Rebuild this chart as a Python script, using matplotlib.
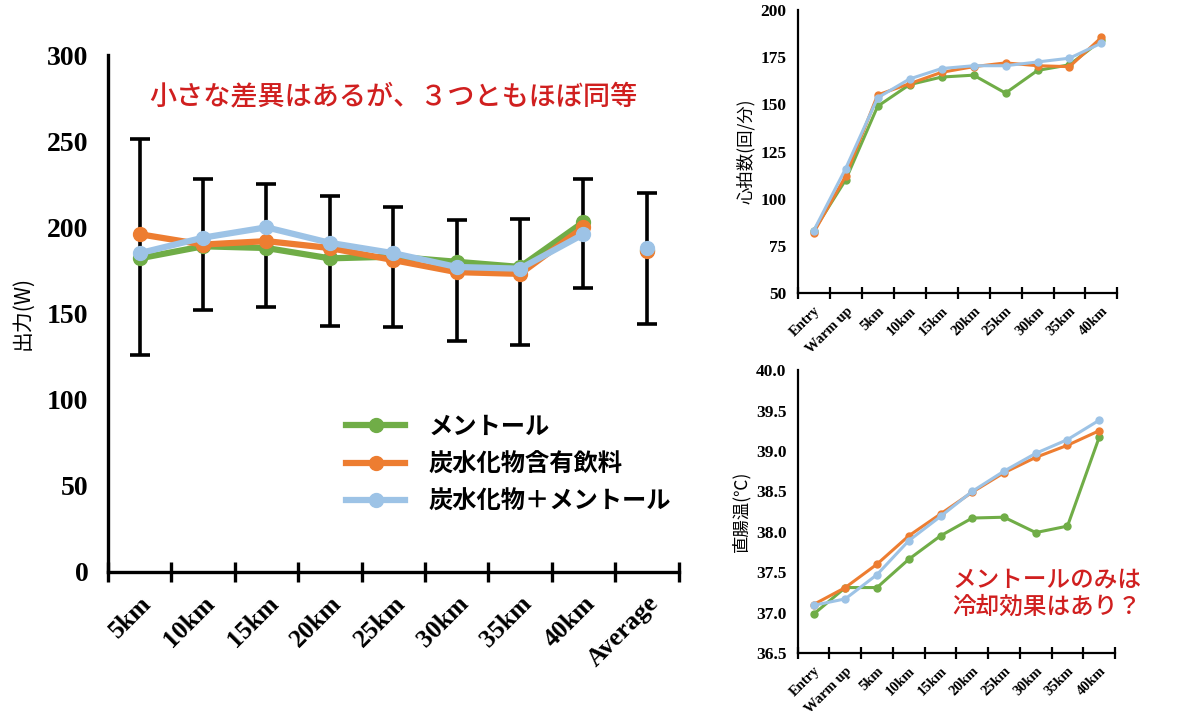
import numpy as np
import matplotlib.pyplot as plt

plt.rcParams['font.family'] = ['Noto Sans CJK JP', 'DejaVu Sans']

GREEN = '#70ad47'
ORANGE = '#ed7d31'
BLUE = '#9dc3e6'
RED = '#d01f1f'
SERIF = 'Liberation Serif'
CJK = ['Noto Sans CJK JP', 'DejaVu Sans']

# main chart: power output
power_cats = ['5km', '10km', '15km', '20km', '25km', '30km', '35km', '40km', 'Average']
power_menthol = [182, 189, 188, 182, 183, 180, 177, 203, 187]
power_carb = [196, 190, 192, 188, 181, 174, 173, 200, 186]
power_carb_menthol = [185, 194, 200, 191, 185, 177, 176, 196, 188]
err_top = [251, 228, 225, 218, 212, 204, 205, 228, 220]
err_bottom = [126, 152, 154, 143, 142, 134, 132, 165, 144]

# right charts
stage_cats = ['Entry', 'Warm up', '5km', '10km', '15km', '20km', '25km', '30km', '35km', '40km']
hr_menthol = [83, 110, 149, 160.5, 164.5, 165.5, 156, 168, 171, 184]
hr_carb = [82, 112, 155, 161, 167, 170, 172, 170.5, 170, 185.5]
hr_carb_menthol = [83, 116, 153.5, 163.5, 169, 170.5, 170.5, 172.5, 174.5, 182.5]
tre_menthol = [36.98, 37.31, 37.31, 37.66, 37.95, 38.17, 38.18, 37.99, 38.07, 39.17]
tre_carb = [37.10, 37.31, 37.60, 37.95, 38.22, 38.49, 38.73, 38.92, 39.07, 39.25]
tre_carb_menthol = [37.09, 37.17, 37.47, 37.89, 38.19, 38.50, 38.75, 38.97, 39.14, 39.38]

labels = ['メントール', '炭水化物含有飲料', '炭水化物＋メントール']
colors = [GREEN, ORANGE, BLUE]

fig = plt.figure(figsize=(11.8, 7.2), dpi=100)


def style_axes(ax, n, tick_len, lw, fs):
    for s in ['top', 'right']:
        ax.spines[s].set_visible(False)
    for s in ['left', 'bottom']:
        ax.spines[s].set_linewidth(lw)
    ax.set_xlim(-0.5, n - 0.5)
    ax.set_xticks(np.arange(n + 1) - 0.5)
    ax.set_xticklabels([])
    ax.tick_params(axis='x', which='major', direction='inout', length=tick_len, width=lw)
    ax.tick_params(axis='y', length=0)
    for t in ax.get_yticklabels():
        t.set_fontfamily(SERIF)
        t.set_fontweight('bold')
        t.set_fontsize(fs)


# ---- main chart ----
ax = fig.add_axes([0.0915, 0.2056, 0.4835, 0.718])
x = np.arange(len(power_cats))
mid = (np.array(err_top) + np.array(err_bottom)) / 2
half = (np.array(err_top) - np.array(err_bottom)) / 2
ax.errorbar(x, mid, yerr=half, fmt='none', ecolor='black', elinewidth=2.6,
            capsize=7, capthick=2.6, zorder=1)
for vals, c, lab in zip([power_menthol, power_carb, power_carb_menthol], colors, labels):
    ax.plot(x[:8], vals[:8], color=c, lw=4.5, marker='o', ms=10, label=lab, zorder=3)
    ax.plot(x[8:], vals[8:], color=c, lw=4.5, marker='o', ms=10, zorder=3)
ax.set_ylim(0, 300)
ax.set_yticks(range(0, 301, 50))
style_axes(ax, len(power_cats), 14, 2.4, 20)
ax.set_xticks(x, minor=True)
ax.set_xticklabels(power_cats, minor=True, rotation=45, ha='right',
                   rotation_mode='anchor', fontfamily=SERIF, fontweight='bold', fontsize=18.5)
ax.tick_params(axis='x', which='minor', length=0, pad=14)
ax.tick_params(axis='y', pad=14)
ax.set_ylabel('出力(W)', fontsize=15, labelpad=10)
leg = ax.legend(loc='upper left', bbox_to_anchor=(0.275, 0.454), bbox_transform=fig.transFigure,
                frameon=False, handlelength=2.4, labelspacing=0.55, handletextpad=1.0,
                prop={'family': CJK, 'weight': 'bold', 'size': 17.5})
fig.text(0.333, 0.865, '小さな差異はあるが、３つともほぼ同等', color=RED, fontsize=19.5,
         fontweight='medium', ha='center', va='center')

# ---- heart rate ----
ax2 = fig.add_axes([0.676, 0.593, 0.271, 0.393])
xs = np.arange(len(stage_cats))
for vals, c in zip([hr_menthol, hr_carb, hr_carb_menthol], colors):
    ax2.plot(xs, vals, color=c, lw=2.2, marker='o', ms=5)
ax2.set_ylim(50, 200)
ax2.set_yticks(range(50, 201, 25))
style_axes(ax2, len(stage_cats), 8, 1.6, 12.5)
ax2.set_xticks(xs, minor=True)
ax2.set_xticklabels(stage_cats, minor=True, rotation=45, ha='right', rotation_mode='anchor',
                    fontfamily=SERIF, fontweight='bold', fontsize=10.5)
ax2.tick_params(axis='x', which='minor', length=0, pad=8)
ax2.tick_params(axis='y', pad=8)
ax2.set_ylabel('心拍数(回/分)', fontsize=12.5, labelpad=4)

# ---- rectal temperature ----
ax3 = fig.add_axes([0.676, 0.093, 0.269, 0.393])
for vals, c in zip([tre_menthol, tre_carb, tre_carb_menthol], colors):
    ax3.plot(xs, vals, color=c, lw=2.2, marker='o', ms=5)
ax3.set_ylim(36.5, 40.0)
ax3.set_yticks(np.arange(36.5, 40.01, 0.5))
ax3.set_yticklabels([f'{v:.1f}' for v in np.arange(36.5, 40.01, 0.5)])
style_axes(ax3, len(stage_cats), 8, 1.6, 12.5)
ax3.set_xticks(xs, minor=True)
ax3.set_xticklabels(stage_cats, minor=True, rotation=45, ha='right', rotation_mode='anchor',
                    fontfamily=SERIF, fontweight='bold', fontsize=10.5)
ax3.tick_params(axis='x', which='minor', length=0, pad=8)
ax3.tick_params(axis='y', pad=8)
ax3.set_ylabel('直腸温(℃)', fontsize=12.5, labelpad=4)
fig.text(0.887, 0.175, 'メントールのみは\n冷却効果はあり？', color=RED, fontsize=17,
         fontweight='medium', ha='center', va='center', linespacing=1.25)

fig.savefig('out.png', dpi=100)
